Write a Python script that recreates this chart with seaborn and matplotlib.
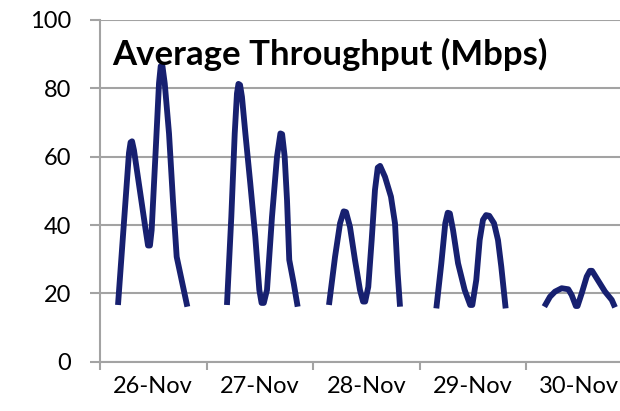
import numpy as np
import pandas as pd
import matplotlib
matplotlib.use("Agg")
import matplotlib.pyplot as plt
import seaborn as sns

# ______ average throughput (position inside each day, Mbps) ______

days = ["26-Nov", "27-Nov", "28-Nov", "29-Nov", "30-Nov"]

pos_26 = [0.169, 0.272, 0.287, 0.301, 0.319, 0.429, 0.451, 0.469, 0.485, 0.523, 0.554, 0.570, 0.586, 0.608, 0.648, 0.685, 0.720, 0.820]
mbps_26 = [16.6, 61.1, 64.2, 64.5, 61.9, 38.5, 34.0, 34.0, 38.5, 61.9, 81.5, 86.5, 86.6, 81.4, 66.8, 47.3, 30.7, 16.1]

pos_27 = [0.192, 0.233, 0.265, 0.286, 0.300, 0.315, 0.333, 0.365, 0.411, 0.458, 0.496, 0.517, 0.538, 0.568, 0.615, 0.662, 0.694, 0.710, 0.734, 0.756, 0.777, 0.819, 0.856]
mbps_27 = [16.6, 42.4, 66.8, 78.5, 81.3, 81.0, 77.5, 66.8, 52.2, 36.6, 21.0, 17.2, 17.2, 21.0, 42.4, 60.0, 66.8, 66.6, 60.0, 47.3, 29.8, 22.9, 16.1]

pos_28 = [0.150, 0.207, 0.254, 0.288, 0.310, 0.347, 0.394, 0.441, 0.470, 0.490, 0.519, 0.551, 0.582, 0.608, 0.630, 0.676, 0.732, 0.770, 0.795, 0.817]
mbps_28 = [16.6, 30.7, 40.5, 44.0, 43.8, 39.5, 29.8, 21.0, 17.6, 17.6, 21.9, 35.6, 50.3, 56.8, 57.3, 54.1, 48.3, 40.5, 25.9, 16.1]

pos_29 = [0.158, 0.205, 0.242, 0.265, 0.285, 0.315, 0.362, 0.424, 0.476, 0.496, 0.533, 0.565, 0.596, 0.625, 0.655, 0.700, 0.737, 0.768, 0.809]
mbps_29 = [15.6, 28.8, 40.5, 43.6, 43.4, 38.5, 28.8, 21.0, 16.6, 16.6, 23.9, 35.6, 41.5, 42.9, 42.7, 40.5, 35.6, 27.8, 15.6]

pos_30 = [0.172, 0.225, 0.272, 0.335, 0.397, 0.429, 0.468, 0.484, 0.523, 0.570, 0.600, 0.620, 0.664, 0.742, 0.805, 0.836]
mbps_30 = [16.1, 19.0, 20.5, 21.5, 21.2, 19.5, 16.3, 16.3, 20.0, 24.9, 26.6, 26.6, 24.4, 20.5, 18.1, 15.9]

y_ticks = [0, 20, 40, 60, 80, 100]

# one row per reading, the day number is used to break the line between days
frames = []
for i, (p, v) in enumerate(zip([pos_26, pos_27, pos_28, pos_29, pos_30],
                               [mbps_26, mbps_27, mbps_28, mbps_29, mbps_30])):
    frames.append(pd.DataFrame({"day": i, "t": np.array(p) + i, "mbps": v}))
df = pd.concat(frames, ignore_index=True)

sns.set_style("white")
plt.rcParams["font.family"] = ["Lato", "DejaVu Sans"]
plt.rcParams["text.color"] = "black"

grid_col = "#a3a3a3"
line_col = "#172070"

fig = plt.figure(figsize=(6.2, 4.11), dpi=100)
# the plot runs past the right edge of the picture, like the original
ax = fig.add_axes([100 / 620, 49.3 / 411, 5.2 * 106.5 / 620, 341.7 / 411])

sns.lineplot(data=df, x="t", y="mbps", units="day", estimator=None, sort=False,
             color=line_col, lw=4.2, ax=ax, legend=False)
for l in ax.lines:
    l.set_solid_joinstyle("round")
    l.set_solid_capstyle("butt")

ax.set_xlim(0, 5.2)
ax.set_ylim(0, 100)
ax.set_yticks(y_ticks)
ax.set_yticklabels([str(v) for v in y_ticks])
ax.yaxis.grid(True, color=grid_col, lw=1.5)
ax.set_axisbelow(True)

# major ticks on the day boundaries, labels in the middle of each day
ax.set_xticks(range(0, 6))
ax.set_xticklabels([])
ax.set_xticks([i + 0.5 for i in range(len(days))], minor=True)
ax.set_xticklabels(days, minor=True)
ax.tick_params(axis="x", which="major", length=6, width=1.5, color=grid_col, direction="out", bottom=True)
ax.tick_params(axis="x", which="minor", length=0, pad=10, labelsize=17, labelcolor="black")
ax.tick_params(axis="y", length=7, width=1.5, color=grid_col, direction="out", left=True, pad=14,
               labelsize=17, labelcolor="black")

for s in ["top", "right"]:
    ax.spines[s].set_visible(False)
for s in ["left", "bottom"]:
    ax.spines[s].set_color(grid_col)
    ax.spines[s].set_linewidth(1.5)

ax.set_xlabel("")
ax.set_ylabel("")
ax.text(0.113, 86.8, "Average Throughput (Mbps)", fontsize=25, fontweight="bold",
        va="baseline", ha="left", color="black")

fig.savefig("out.png", dpi=100)
